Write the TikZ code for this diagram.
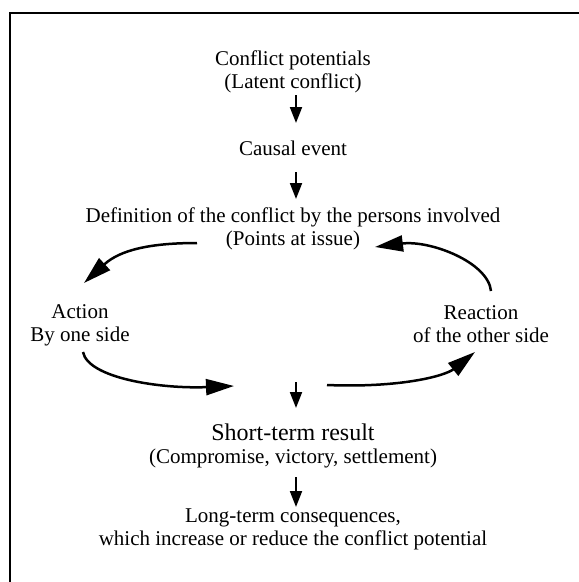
\documentclass[tikz,border=0pt]{standalone}
\usepackage{fontspec}
\setmainfont{Liberation Serif}
\usetikzlibrary{arrows.meta}
\newcommand\bigsize{\fontsize{24}{26}\selectfont}
\begin{document}
\begin{tikzpicture}[x=1pt,y=-1pt,
  txt/.style={font=\fontsize{21}{23}\selectfont, align=center, inner sep=0pt, anchor=base},
  varrow/.style={line width=2pt, -{Triangle[length=16pt,width=12pt]}},
  carrow/.style={line width=2.5pt, -{Triangle[length=28pt,width=16pt]}},
  frame/.style={line width=2pt}]
\useasboundingbox (0,0) rectangle (579,582);
\draw[frame] (10,582) -- (10,13) -- (579,13);

% anchors are at the baseline of the last line
\node[txt] (cp) at (293,88) {Conflict potentials\\(Latent conflict)};
\node[txt] (ce) at (293,155) {Causal event};
\node[txt] (def) at (293,245) {Definition of the conflict by the persons involved\\(Points at issue)};
\node[txt] (act) at (80,341) {Action\\By one side};
\node[txt] (react) at (481,342) {Reaction\\of the other side};
\node[txt] (str) at (293,463) {{\bigsize Short-term result}\\(Compromise, victory, settlement)};
\node[txt] (ltc) at (293,545) {Long-term consequences,\\which increase or reduce the conflict potential};

\coordinate (mid) at ([shift={(3,-81)}]str.base);

\draw[varrow] ([shift={(3,7)}]cp.base) -- ([shift={(3,-32)}]ce.base);
\draw[varrow] ([shift={(3,17)}]ce.base) -- ([shift={(3,-46)}]def.base);
\draw[varrow] (mid) -- ([shift={(3,-55)}]str.base);
\draw[varrow] ([shift={(3,14)}]str.base) -- ([shift={(3,-38)}]ltc.base);

\draw[carrow] ([shift={(-96,-2)}]def.base) .. controls (150,243) and (120,250) .. ([shift={(4,-58)}]act.base);
\draw[carrow] ([shift={(10,-51)}]react.base) .. controls (488,262) and (430,240) .. ([shift={(82,2)}]def.base);
\draw[carrow] ([shift={(3,11)}]act.base) .. controls (88,378) and (160,389) .. ([shift={(-62,4)}]mid);
\draw[carrow] ([shift={(31,3)}]mid) .. controls (400,388) and (445,376) .. ([shift={(-6,10)}]react.base);
\end{tikzpicture}
\end{document}
